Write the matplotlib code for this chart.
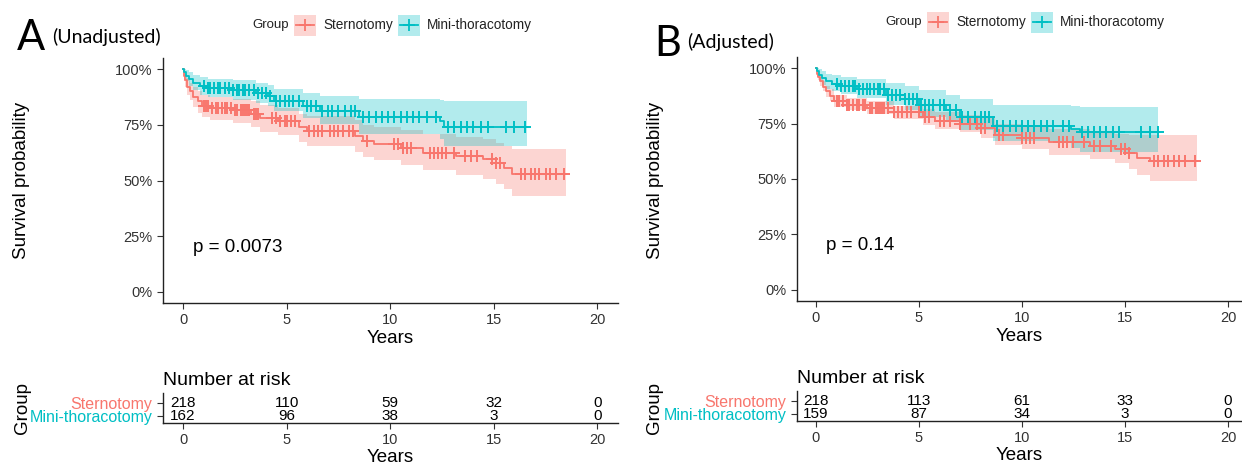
import numpy as np
import matplotlib
matplotlib.use("Agg")
import matplotlib.pyplot as plt
from matplotlib.patches import Rectangle
from matplotlib.lines import Line2D

plt.rcParams['font.family'] = ['Liberation Sans', 'DejaVu Sans']

RED = '#F8766D'
TEAL = '#00BFC4'

groups = ['Sternotomy', 'Mini-thoracotomy']
risk_times = [0, 5, 10, 15, 20]

# ---- panel A (unadjusted) ----
a_st_t = [0, 0.05, 0.1, 0.2, 0.35, 0.5, 0.7, 0.9, 1.3, 2.4, 3.3, 3.7, 4.6, 5.6, 6.0, 8.3, 8.7, 9.2, 10.5, 11.6, 13.2, 14.5, 15.1, 15.5, 15.9]
a_st_s = [100, 97, 95, 92, 90, 87.5, 85.5, 83.5, 82.5, 81.5, 80, 78, 76.5, 74, 72.3, 70, 67.8, 66.3, 64.8, 62.5, 61, 59.5, 58, 55.8, 52.8]
a_st_lo = [100, 94.5, 92, 88.5, 86, 83, 80.5, 78.5, 77, 76, 74, 72, 70.5, 67.5, 65.5, 63, 60.5, 59, 57, 54.5, 52.5, 50.5, 48.5, 46, 43]
a_st_up = [100, 99.5, 98, 96, 94, 92, 90, 88.5, 87.5, 86.8, 85.5, 84, 82.5, 80, 79, 77, 75, 73.8, 72.5, 70.8, 69.5, 68.5, 67, 65.5, 64]
a_st_end = 18.5
a_st_cens = [1.0, 1.1, 1.2, 1.4, 1.6, 1.7, 1.9, 2.0, 2.1, 2.3, 2.5, 2.6, 2.8, 2.9, 3.0, 3.1, 3.2, 3.4, 3.5, 3.6,
             4.3, 4.5, 4.7, 4.9, 5.0, 5.2, 5.4, 6.1, 6.3, 6.5, 6.7, 7.1, 7.3, 7.5, 7.7, 8.0, 8.2, 8.9,
             10.2, 10.4, 10.6, 10.8, 11.0, 11.9, 12.1, 12.3, 12.5, 12.7, 13.1, 13.6, 13.9, 14.2,
             14.9, 15.1, 15.3, 16.3, 16.5, 16.8, 17.0, 17.2, 17.5, 17.7, 18.0, 18.4]

a_mt_t = [0, 0.05, 0.15, 0.3, 0.5, 0.8, 1.2, 2.4, 3.5, 4.1, 4.4, 5.8, 6.6, 8.5, 12.4, 12.6]
a_mt_s = [100, 98.5, 97, 95.5, 94, 92.5, 91.5, 90.5, 89.5, 88, 85.8, 83.5, 81.3, 78.3, 76.5, 74.1]
a_mt_lo = [100, 96.5, 94.5, 92.5, 90.5, 88.5, 87.5, 86, 85, 83.5, 81, 78, 75.5, 70.8, 68.5, 65.5]
a_mt_up = [100, 100, 99.5, 98.5, 97.5, 96.5, 95.5, 95, 94, 93, 91, 89.5, 88, 86.5, 86, 85.8]
a_mt_end = 16.6
a_mt_cens = [1.0, 1.2, 1.3, 1.5, 1.7, 1.8, 2.0, 2.2, 2.4, 2.6, 2.7, 2.9, 3.0, 3.2, 3.4, 3.6, 3.8,
             4.0, 4.2, 4.5, 4.7, 4.9, 5.1, 5.3, 5.6, 6.0, 6.2, 6.4, 6.7, 7.0, 7.2, 7.5, 7.8, 8.1, 8.3,
             8.7, 9.0, 9.3, 9.6, 9.9, 10.2, 10.5, 10.8, 11.1, 11.4, 11.8, 12.2,
             12.8, 13.1, 13.4, 13.7, 14.0, 14.4, 14.7, 15.6, 16.0, 16.5]

a_risk_st = [218, 110, 59, 32, 0]
a_risk_mt = [162, 96, 38, 3, 0]

# ---- panel B (adjusted) ----
b_st_t = [0, 0.05, 0.1, 0.2, 0.35, 0.5, 0.7, 0.9, 1.5, 2.5, 3.8, 5.2, 5.8, 7.0, 8.0, 8.7, 10.0, 11.3, 13.3, 14.5, 15.2, 15.6, 16.2]
b_st_s = [100, 97.5, 96, 94, 91.5, 89.5, 87.5, 85, 83.5, 82, 80, 78, 76, 75, 73, 70, 68.5, 66.5, 65, 63.5, 61.5, 59.5, 58]
b_st_lo = [100, 96, 94.5, 92, 89.5, 87, 85, 82.5, 81, 79.5, 77, 74.5, 72.5, 71, 68.5, 65.5, 63.5, 61, 59, 57, 54.5, 52, 49]
b_st_up = [100, 99, 98, 96, 94, 92, 90.5, 88, 86.5, 85, 83, 81.5, 80, 79, 77.5, 75, 74, 72.5, 71.5, 70.5, 70, 70, 70]
b_st_end = 18.5
b_st_cens = [1.0, 1.1, 1.3, 1.5, 1.6, 1.8, 2.0, 2.1, 2.3, 2.4, 2.6, 2.7, 2.9, 3.0, 3.1, 3.2, 3.3, 3.5,
             3.8, 4.0, 4.2, 4.4, 4.6, 5.0, 5.3, 5.5, 6.0, 6.2, 6.5, 7.0, 7.5, 7.8, 8.0, 8.2, 8.9, 9.1,
             10.0, 10.2, 10.4, 10.6, 11.8, 12.0, 12.2, 12.5, 13.0, 13.5, 13.8, 14.3, 14.8, 15.0, 15.2,
             16.4, 16.6, 16.9, 17.1, 17.4, 17.6, 17.9, 18.4]

b_mt_t = [0, 0.05, 0.15, 0.3, 0.5, 0.8, 1.2, 2.0, 3.4, 4.3, 5.0, 6.3, 7.0, 8.6, 12.4, 12.8]
b_mt_s = [100, 98.5, 97, 95.5, 94, 93, 92, 90.5, 88, 86, 83.5, 81, 78, 74, 72.5, 71.2]
b_mt_lo = [100, 96.5, 94.5, 92.5, 90.5, 89.5, 88.5, 86.5, 83.5, 81, 78, 75.5, 72, 67, 64, 62]
b_mt_up = [100, 100, 99.5, 98.5, 97.5, 97, 96, 95, 93.5, 92, 90, 88, 86, 83.5, 83, 82.5]
b_mt_end = 16.6
b_mt_cens = [1.0, 1.2, 1.4, 1.6, 1.8, 1.9, 2.1, 2.3, 2.5, 2.6, 2.8, 3.0, 3.1, 3.3, 3.5, 3.7,
             3.9, 4.1, 4.3, 4.5, 4.7, 4.9, 5.1, 5.3, 5.5, 5.7, 6.0, 6.2, 6.5, 6.8, 7.1, 7.4, 7.7, 8.0, 8.2, 8.4,
             8.8, 9.1, 9.4, 9.7, 10.0, 10.3, 10.6, 10.9, 11.2, 11.5, 12.0, 12.3,
             12.9, 13.2, 13.5, 13.8, 14.1, 14.4, 14.7, 15.8, 16.2, 16.6]

b_risk_st = [218, 113, 61, 33, 0]
b_risk_mt = [159, 87, 34, 3, 0]

W, H = 1242, 468


def fx(px):
    return px / W


def fy(py):
    return 1 - py / H


def box(l, t, r, b):
    return [fx(l), fy(b), fx(r) - fx(l), fy(t) - fy(b)]


def km(ax, t, s, lo, up, end, cens, color):
    tt = list(t) + [end]
    ax.fill_between(tt, list(lo) + [lo[-1]], list(up) + [up[-1]], step='post',
                    color=color, alpha=0.3, linewidth=0)
    ax.step(tt, list(s) + [s[-1]], where='post', color=color, lw=1.3)
    idx = np.searchsorted(t, cens, side='right') - 1
    ax.plot(cens, np.array(s)[idx], '+', color=color, ms=8, mew=1.4, ls='none')


def style(ax):
    for sp in ['top', 'right']:
        ax.spines[sp].set_visible(False)
    for sp in ['left', 'bottom']:
        ax.spines[sp].set_color('#222222')
        ax.spines[sp].set_linewidth(1.0)
    ax.tick_params(length=4, width=0.8, colors='#333333', labelcolor='#333333', labelsize=10.5)


def legend(x0, yc):
    fig.text(fx(x0), fy(yc), 'Group', fontsize=9.5, va='center', ha='left', color='#222222')
    keys = [(x0 + 42, RED, 'Sternotomy'), (x0 + 146, TEAL, 'Mini-thoracotomy')]
    for kx, c, lab in keys:
        fig.patches.append(Rectangle((fx(kx), fy(yc + 10.5)), fx(22), 21 / H,
                                     transform=fig.transFigure, color=c, alpha=0.3, lw=0))
        fig.lines.append(Line2D([fx(kx + 2), fx(kx + 20)], [fy(yc), fy(yc)], transform=fig.transFigure,
                                color=c, lw=1.3))
        fig.lines.append(Line2D([fx(kx + 11)], [fy(yc)], transform=fig.transFigure,
                                color=c, marker='+', ms=8, mew=1.3, ls='none'))
        fig.text(fx(kx + 29), fy(yc), lab, fontsize=9.8, va='center', ha='left', color='#222222')


fig = plt.figure(figsize=(12.42, 4.68), dpi=100)

panels = [
    dict(main=box(163, 58, 618, 303), risk=box(163, 393, 618, 423), xlim=(-0.97, 21.0),
         st=(a_st_t, a_st_s, a_st_lo, a_st_up, a_st_end, a_st_cens),
         mt=(a_mt_t, a_mt_s, a_mt_lo, a_mt_up, a_mt_end, a_mt_cens),
         risk_st=a_risk_st, risk_mt=a_risk_mt, p='p = 0.0073',
         letter=('A', 17, 38), sub=('(Unadjusted)', 52, 37), leg=(252, 25), ylab_x=22),
    dict(main=box(797, 57, 1242, 301), risk=box(797, 391, 1242, 421), xlim=(-0.92, 20.68),
         st=(b_st_t, b_st_s, b_st_lo, b_st_up, b_st_end, b_st_cens),
         mt=(b_mt_t, b_mt_s, b_mt_lo, b_mt_up, b_mt_end, b_mt_cens),
         risk_st=b_risk_st, risk_mt=b_risk_mt, p='p = 0.14',
         letter=('B', 654, 44), sub=('(Adjusted)', 687, 42), leg=(885, 22), ylab_x=655),
]

for P in panels:
    ax = fig.add_axes(P['main'])
    km(ax, *P['st'], RED)
    km(ax, *P['mt'], TEAL)
    ax.set_xlim(*P['xlim'])
    ax.set_ylim(-5, 105)
    ax.set_xticks(risk_times)
    ax.set_yticks([0, 25, 50, 75, 100])
    ax.set_yticklabels(['0%', '25%', '50%', '75%', '100%'])
    style(ax)
    ax.set_xlabel('Years', fontsize=13.5, labelpad=2)
    ax.text(0.5, 20, P['p'], fontsize=13.5, ha='left', va='center')
    fig.text(fx(P['ylab_x']), fy(180), 'Survival probability', rotation=90, fontsize=13.5,
             ha='center', va='center')

    rk = fig.add_axes(P['risk'])
    rk.set_xlim(*P['xlim'])
    rk.set_ylim(0.46, 2.77)
    for x, n in zip(risk_times, P['risk_st']):
        rk.text(x, 2, str(n), ha='center', va='center', fontsize=11)
    for x, n in zip(risk_times, P['risk_mt']):
        rk.text(x, 1, str(n), ha='center', va='center', fontsize=11)
    rk.set_xticks(risk_times)
    rk.set_yticks([2, 1])
    rk.set_yticklabels(groups)
    style(rk)
    rk.tick_params(axis='y', labelsize=11.5)
    for lab, c in zip(rk.get_yticklabels(), [RED, TEAL]):
        lab.set_color(c)
    rk.set_xlabel('Years', fontsize=13.5, labelpad=1)
    rk.set_title('Number at risk', fontsize=14, loc='left', pad=6, x=0.0)
    fig.text(fx(P['ylab_x']), fy(408), 'Group', rotation=90, fontsize=13.5, ha='center', va='center')

    L, lx, ly = P['letter']
    fig.text(fx(lx), fy(ly), L, fontsize=30, family=['Lato', 'DejaVu Sans'], ha='left', va='center')
    S, sx, sy = P['sub']
    fig.text(fx(sx), fy(sy), S, fontsize=14, family=['Lato', 'DejaVu Sans'], ha='left', va='center')
    legend(*P['leg'])

fig.savefig('out.png', dpi=100)
